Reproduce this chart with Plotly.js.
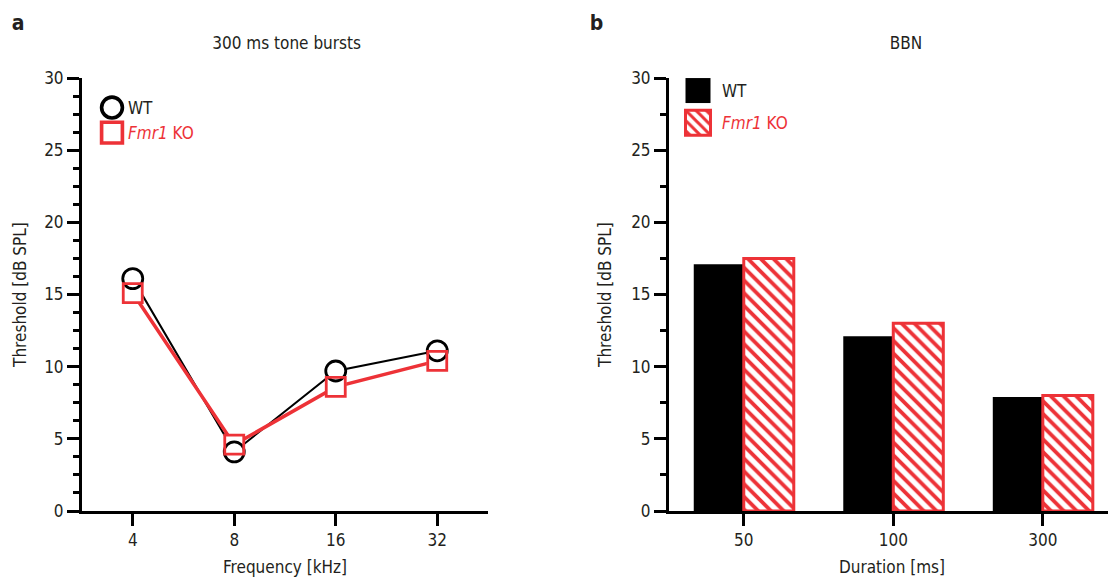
<!DOCTYPE html>
<html>
<head>
<meta charset="utf-8">
<script src="https://cdn.plot.ly/plotly-3.0.1.min.js"></script>
<style>
html,body{margin:0;padding:0;background:#fff;}
#chart{width:1109px;height:579px;}
#chart text{font-stretch:condensed !important;}
</style>
</head>
<body>
<div id="chart"></div>
<script>
// ---- data ----
const freqCategories = ['4', '8', '16', '32'];
const wtTone = [16.1, 4.1, 9.7, 11.1];
const koTone = [15.1, 4.6, 8.6, 10.4];

const durCategories = ['50', '100', '300'];
const wtBBN = [17.1, 12.1, 7.9];
const koBBN = [17.5, 13.0, 8.0];

const seriesNames = ['WT', '<i>Fmr1</i> KO'];

// ---- styling ----
const W = 1109, H = 579;
const RED = '#ed3237';
const INK = '#231f20';
const FONT = '"DejaVu Sans", sans-serif';
const px = x => x / W;
const py = y => 1 - y / H;

const traces = [
  // connecting lines
  {x: freqCategories, y: wtTone, xaxis: 'x', yaxis: 'y', mode: 'lines', line: {color: '#000', width: 2}, showlegend: false, hoverinfo: 'skip'},
  {x: freqCategories, y: koTone, xaxis: 'x', yaxis: 'y', mode: 'lines', line: {color: RED, width: 3.5}, showlegend: false, hoverinfo: 'skip'},
  // white masks so lines stop at the markers
  {x: freqCategories, y: wtTone, xaxis: 'x', yaxis: 'y', mode: 'markers', marker: {symbol: 'circle', size: 22, color: '#fff', line: {width: 0}}, showlegend: false, hoverinfo: 'skip'},
  {x: freqCategories, y: koTone, xaxis: 'x', yaxis: 'y', mode: 'markers', marker: {symbol: 'square', size: 21, color: '#fff', line: {width: 0}}, showlegend: false, hoverinfo: 'skip'},
  // open markers
  {x: freqCategories, y: wtTone, xaxis: 'x', yaxis: 'y', mode: 'markers', name: seriesNames[0], legend: 'legend',
   marker: {symbol: 'circle-open', size: 20, color: '#000', line: {width: 2.8, color: '#000'}}},
  {x: freqCategories, y: koTone, xaxis: 'x', yaxis: 'y', mode: 'markers', name: '<span style="color:' + RED + '">' + seriesNames[1] + '</span>', legend: 'legend',
   marker: {symbol: 'square-open', size: 19, color: RED, line: {width: 2.8, color: RED}}},
  // bars
  {type: 'bar', x: durCategories, y: wtBBN, xaxis: 'x2', yaxis: 'y2', name: seriesNames[0], legend: 'legend2', legendgroup: 'wt',
   marker: {color: '#000', line: {width: 0}}},
  {type: 'bar', x: durCategories, y: koBBN, xaxis: 'x2', yaxis: 'y2', name: '<span style="color:' + RED + '">' + seriesNames[1] + '</span>', legend: 'legend2', legendgroup: 'ko',
   marker: {color: '#fff', line: {width: 3, color: RED},
            pattern: {shape: '\\', fgcolor: RED, bgcolor: '#fff', size: 9, solidity: 0.42, fillmode: 'replace'}}}
];

const yCommon = {
  domain: [py(511), py(78)], range: [0, 30], dtick: 5, tick0: 0,
  ticks: 'outside', ticklen: 12, tickwidth: 3, tickcolor: '#000',
  showline: true, linewidth: 3, linecolor: '#000', showgrid: false, zeroline: false,
  tickfont: {family: FONT, size: 17, color: INK}, fixedrange: true
};
const xCommon = {
  type: 'category', ticks: 'outside', ticklen: 12, tickwidth: 3, tickcolor: '#000',
  showline: true, linewidth: 3, linecolor: '#000', showgrid: false, zeroline: false,
  tickfont: {family: FONT, size: 17, color: INK}, fixedrange: true
};

function ann(text, x, y, opts) {
  return Object.assign({text: text, x: px(x), y: py(y), xref: 'paper', yref: 'paper', showarrow: false,
    xanchor: 'center', yanchor: 'middle', font: {family: FONT, size: 17, color: INK}}, opts || {});
}

const layout = {
  width: W, height: H,
  margin: {l: 0, r: 0, t: 0, b: 0},
  paper_bgcolor: '#fff', plot_bgcolor: '#fff',
  font: {family: FONT, color: INK},
  bargap: 0.331, bargroupgap: 0, barmode: 'group',
  xaxis: Object.assign({}, xCommon, {domain: [px(82), px(488)], range: [-0.5, 3.5], anchor: 'y', categoryarray: freqCategories}),
  yaxis: Object.assign({}, yCommon, {anchor: 'x', minor: {dtick: 1.25, ticklen: 6, tickwidth: 3, tickcolor: '#000', ticks: 'outside'}}),
  xaxis2: Object.assign({}, xCommon, {domain: [px(669), px(1108)], range: [-0.5, 2.436], anchor: 'y2', categoryarray: durCategories}),
  yaxis2: Object.assign({}, yCommon, {anchor: 'x2', minor: {dtick: 2.5, ticklen: 6, tickwidth: 3, tickcolor: '#000', ticks: 'outside'}}),
  legend: {x: px(88), y: py(90), xanchor: 'left', yanchor: 'top', bgcolor: 'rgba(0,0,0,0)',
           font: {family: FONT, size: 17, color: INK}, itemclick: false, itemdoubleclick: false},
  legend2: {x: px(682), y: py(73), xanchor: 'left', yanchor: 'top', bgcolor: 'rgba(0,0,0,0)', tracegroupgap: 7,
            font: {family: FONT, size: 17, color: INK}, itemclick: false, itemdoubleclick: false},
  annotations: [
    ann('<b>a</b>', 18, 23, {font: {family: FONT, size: 21, color: INK}}),
    ann('<b>b</b>', 596, 23, {font: {family: FONT, size: 21, color: INK}}),
    ann('300 ms tone bursts', 286, 43),
    ann('BBN', 906, 43),
    ann('Threshold [dB SPL]', 20, 295, {textangle: -90}),
    ann('Threshold [dB SPL]', 605, 295, {textangle: -90}),
    ann('Frequency [kHz]', 285, 567),
    ann('Duration [ms]', 892, 567)
  ]
};

Plotly.newPlot('chart', traces, layout, {displayModeBar: false, staticPlot: true}).then(function (gd) {
  // enlarge legend symbols to match the reference
  gd.querySelectorAll('g.legend .legendpoints path').forEach(function (p) {
    const t = p.getAttribute('transform') || '';
    p.setAttribute('transform', t + ' translate(4,0) scale(1.3)');
  });
  gd.querySelectorAll('g.legend2 .legendpoints path').forEach(function (p) {
    const t = p.getAttribute('transform') || '';
    p.setAttribute('d', 'M12.5,12.5H-12.5V-12.5H12.5Z');
    p.setAttribute('transform', t + ' translate(-4,0)');
  });
});
</script>
</body>
</html>
